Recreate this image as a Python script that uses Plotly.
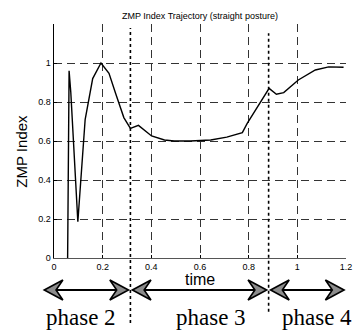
import plotly.graph_objects as go

# ---- data ----
time_vals = [0.056, 0.062, 0.069, 0.098, 0.128, 0.159, 0.193, 0.226, 0.253, 0.287,
             0.314, 0.347, 0.401, 0.454, 0.494, 0.56, 0.644, 0.71, 0.774, 0.794,
             0.884, 0.914, 0.944, 1.004, 1.074, 1.129, 1.19]
zmp_vals = [0.0, 0.96, 0.85, 0.186, 0.71, 0.92, 1.0, 0.947, 0.845, 0.72,
            0.665, 0.68, 0.626, 0.605, 0.60, 0.60, 0.605, 0.62, 0.643, 0.69,
            0.87, 0.84, 0.848, 0.913, 0.964, 0.98, 0.978]

x_ticks = [0, 0.2, 0.4, 0.6, 0.8, 1, 1.2]
x_tick_labels = ["0", "0.2", "0.4", "0.6", "0.8", "1", "1.2"]
y_ticks = [0, 0.2, 0.4, 0.6, 0.8, 1]
y_tick_labels = ["0", "0.2", "0.4", "0.6", "0.8", "1"]

phase_bounds = [0.314, 0.882]            # dotted separators
phase_edges = [-0.04, 0.314, 0.882, 1.192]
phase_names = ["phase 2", "phase 3", "phase 4"]
phase_label_x = [0.113, 0.644, 1.079]

X_RANGE = [0, 1.2]
Y_RANGE = [0, 1.2]

# ---- layout geometry ----
W, H = 360, 332
ML, MR, MT, MB = 54, 8, 24, 74
PW, PH = W - ML - MR, H - MT - MB


def xp(xd):
    return (xd - X_RANGE[0]) / (X_RANGE[1] - X_RANGE[0])


def px_x(p):
    return p / PW


def px_y(p):
    return p / PH


fig = go.Figure()
fig.add_trace(go.Scatter(x=time_vals, y=zmp_vals, mode="lines",
                         line=dict(color="black", width=1.4), showlegend=False,
                         hoverinfo="skip"))

shapes = []
# dotted separators
dot_ext = [(0.983, -0.278), (0.96, -0.23)]
for b, (yt, yb) in zip(phase_bounds, dot_ext):
    shapes.append(dict(type="line", xref="paper", yref="paper",
                       x0=xp(b), x1=xp(b), y0=yb, y1=yt,
                       line=dict(color="black", width=1.6, dash="dot")))

# double arrows
ay = -px_y(32)
gap = px_x(2)
hl, hn, hh = px_x(19), px_x(12), px_y(10)


def head(tip, direction):
    d = direction
    pts = [(tip, ay), (tip - d * hl, ay + hh), (tip - d * hn, ay), (tip - d * hl, ay - hh)]
    path = "M " + " L ".join(f"{x:.5f},{y:.5f}" for x, y in pts) + " Z"
    return dict(type="path", xref="paper", yref="paper", path=path,
                fillcolor="#8c8c8c", line=dict(color="black", width=1.6))


for i in range(3):
    left = xp(phase_edges[i]) + (gap if i > 0 else 0)
    right = xp(phase_edges[i + 1]) - (gap if i < 2 else 0)
    shapes.append(dict(type="line", xref="paper", yref="paper",
                       x0=left + hn, x1=right - hn, y0=ay, y1=ay,
                       line=dict(color="black", width=2)))
    shapes.append(head(left, -1))
    shapes.append(head(right, 1))

annotations = []
for name, lx in zip(phase_names, phase_label_x):
    annotations.append(dict(text=name, x=xp(lx), y=-px_y(59), xref="paper", yref="paper",
                            showarrow=False, xanchor="center", yanchor="middle",
                            font=dict(family="Liberation Serif, Times New Roman, serif",
                                      size=23, color="black")))
annotations.append(dict(text="time", x=xp(0.6), y=-px_y(21), xref="paper", yref="paper",
                        showarrow=False, xanchor="center", yanchor="middle",
                        font=dict(family="Liberation Sans, Arial, sans-serif", size=16, color="black")))
annotations.append(dict(text="ZMP Index", x=-px_x(34), y=px_y(107), xref="paper", yref="paper",
                        showarrow=False, xanchor="center", yanchor="middle", textangle=-90,
                        font=dict(family="Liberation Sans, Arial, sans-serif", size=15, color="black")))
annotations.append(dict(text="ZMP Index Trajectory (straight posture)", x=xp(0.6), y=1 + px_y(8),
                        xref="paper", yref="paper", showarrow=False,
                        xanchor="center", yanchor="middle",
                        font=dict(family="Liberation Sans, Arial, sans-serif", size=9, color="black")))

axis_common = dict(showgrid=True, gridcolor="#333333", gridwidth=1, griddash="8px,5px",
                   zeroline=False, ticks="inside", ticklen=3, tickcolor="black",
                   tickfont=dict(family="Liberation Sans, Arial, sans-serif", size=9, color="black"),
                   mirror=False)

fig.update_layout(
    width=W, height=H,
    margin=dict(l=ML, r=MR, t=MT, b=MB, pad=0),
    paper_bgcolor="white", plot_bgcolor="white",
    xaxis=dict(range=X_RANGE, tickvals=x_ticks, ticktext=x_tick_labels,
               showline=True, linecolor="#555555", linewidth=1, **axis_common),
    yaxis=dict(range=Y_RANGE, tickvals=y_ticks, ticktext=y_tick_labels,
               showline=True, linecolor="black", linewidth=1.5, **axis_common),
    shapes=shapes,
    annotations=annotations,
    showlegend=False,
    hovermode=False,
)

fig.write_html("out.html", config={"displayModeBar": False, "staticPlot": True},
               post_script="document.body.style.margin='0px';document.body.style.overflow='hidden';")
